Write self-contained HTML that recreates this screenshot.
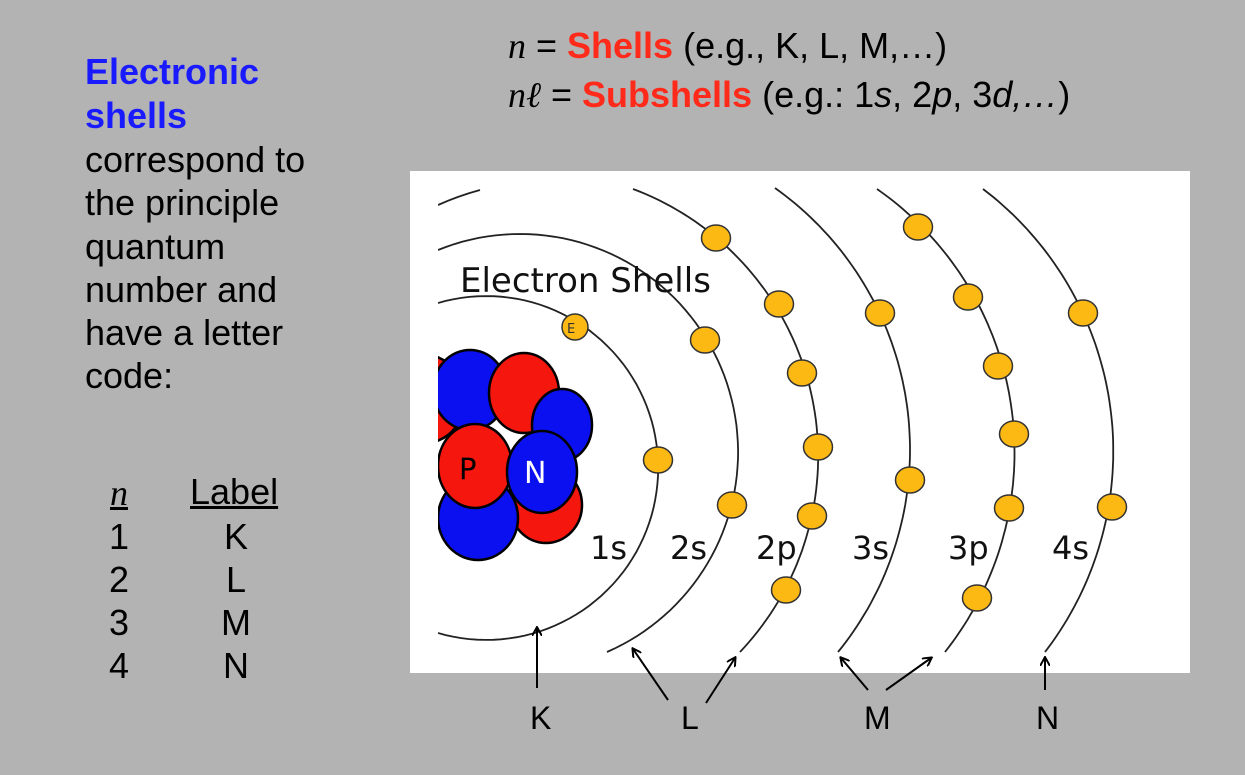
<!DOCTYPE html>
<html><head><meta charset="utf-8"><style>
html,body{margin:0;padding:0}
body{width:1245px;height:775px;background:#b3b3b3;position:relative;overflow:hidden;font-family:"Liberation Sans",Arial,sans-serif;color:#000}
.t{position:absolute;white-space:nowrap;font-size:36px;line-height:30px}
.r{color:#ff2a1a;font-weight:bold}
.b{color:#1a1aff;font-weight:bold}
.ser{font-family:"Liberation Serif",serif;font-style:italic}
.c{width:40px;text-align:center}
</style></head><body>
<div class="t" style="left:508px;top:31px"><span class="ser">n</span> = <span class="r">Shells</span> (e.g., K, L, M,…)</div>
<div class="t" style="left:508px;top:80px"><span class="ser">nℓ</span> = <span class="r">Subshells</span> (e.g.: 1<i>s</i>, 2<i>p</i>, 3<i>d,…</i>)</div>

<div class="t b" style="left:85px;top:57px">Electronic</div>
<div class="t b" style="left:85px;top:101px">shells</div>
<div class="t" style="left:85px;top:145px">correspond to</div>
<div class="t" style="left:85px;top:188px">the principle</div>
<div class="t" style="left:85px;top:232px">quantum</div>
<div class="t" style="left:85px;top:275px">number and</div>
<div class="t" style="left:85px;top:318px">have a letter</div>
<div class="t" style="left:85px;top:361px">code:</div>

<div class="t ser" style="left:110px;top:478px;text-decoration:underline">n</div>
<div class="t" style="left:190px;top:477px;text-decoration:underline">Label</div>
<div class="t" style="left:109px;top:522px">1</div><div class="t c" style="left:216px;top:522px">K</div>
<div class="t" style="left:109px;top:565px">2</div><div class="t c" style="left:216px;top:565px">L</div>
<div class="t" style="left:109px;top:608px">3</div><div class="t c" style="left:216px;top:608px">M</div>
<div class="t" style="left:109px;top:651px">4</div><div class="t c" style="left:216px;top:651px">N</div>

<svg width="1245" height="775" style="position:absolute;left:0;top:0">
<defs><clipPath id="c"><rect x="438" y="171" width="752" height="502"/></clipPath>
<marker id="a" markerWidth="10" markerHeight="10" refX="8" refY="5" orient="auto" markerUnits="userSpaceOnUse"><path d="M0,0 L9,5 L0,10" fill="none" stroke="#000" stroke-width="2"/></marker></defs>
<rect x="410" y="171" width="780" height="502" fill="#fff"/>
<g id="arcs" fill="none" stroke="#222" stroke-width="1.8" clip-path="url(#c)"></g>
<g clip-path="url(#c)" stroke="#000" stroke-width="2.5">
<ellipse cx="425" cy="399" rx="40" ry="44" fill="#f5160e"/>
<ellipse cx="470" cy="390" rx="37" ry="40" fill="#0a10f0"/>
<ellipse cx="524" cy="393" rx="35" ry="40" fill="#f5160e"/>
<ellipse cx="562" cy="425" rx="30" ry="36" fill="#0a10f0"/>
<ellipse cx="546" cy="505" rx="36" ry="38" fill="#f5160e"/>
<ellipse cx="478" cy="518" rx="40" ry="42" fill="#0a10f0"/>
<ellipse cx="475" cy="466" rx="37" ry="42" fill="#f5160e"/>
<ellipse cx="542" cy="472" rx="35" ry="41" fill="#0a10f0"/>
</g>
<text x="459" y="479" font-family="DejaVu Sans,sans-serif" font-size="29" fill="#000">P</text>
<text x="524" y="483" font-family="DejaVu Sans,sans-serif" font-size="30" fill="#fff">N</text>
<g id="el" fill="#fdb913" stroke="#333" stroke-width="1.5"></g>
<text x="567" y="333" font-family="DejaVu Sans,sans-serif" font-size="13" fill="#333">E</text>
<text x="460" y="292" font-family="DejaVu Sans,sans-serif" font-size="34" fill="#111">Electron Shells</text>
<g font-family="DejaVu Sans,sans-serif" font-size="32" fill="#111">
<text x="590" y="559">1s</text><text x="670" y="559">2s</text><text x="756" y="559">2p</text>
<text x="852" y="559">3s</text><text x="948" y="559">3p</text><text x="1052" y="559">4s</text></g>
<g stroke="#000" stroke-width="2" marker-end="url(#a)">
<line x1="537" y1="688" x2="537" y2="628"/>
<line x1="668" y1="700" x2="633" y2="649"/>
<line x1="706" y1="703" x2="735" y2="658"/>
<line x1="868" y1="690" x2="841" y2="658"/>
<line x1="886" y1="690" x2="931" y2="658"/>
<line x1="1045" y1="690" x2="1045" y2="658"/>
</g>
<g font-family="Liberation Sans,sans-serif" font-size="32" fill="#000">
<text x="530" y="729">K</text><text x="681" y="729">L</text><text x="864" y="729">M</text><text x="1036" y="729">N</text></g>
</svg>
<script>
const NS="http://www.w3.org/2000/svg";
function circ(a,b,c){const [x1,y1]=a,[x2,y2]=b,[x3,y3]=c;const d=2*(x1*(y2-y3)+x2*(y3-y1)+x3*(y1-y2));
const ux=((x1*x1+y1*y1)*(y2-y3)+(x2*x2+y2*y2)*(y3-y1)+(x3*x3+y3*y3)*(y1-y2))/d;
const uy=((x1*x1+y1*y1)*(x3-x2)+(x2*x2+y2*y2)*(x1-x3)+(x3*x3+y3*y3)*(x2-x1))/d;return [ux,uy,Math.hypot(x1-ux,y1-uy)];}
function arc(a,b,c){const [cx,cy,r]=circ(a,b,c);let t0=Math.atan2(a[1]-cy,a[0]-cx),t1=Math.atan2(c[1]-cy,c[0]-cx);
while(t1<t0)t1+=2*Math.PI;let d="";for(let i=0;i<=80;i++){const t=t0+(t1-t0)*i/80;d+=(i?"L":"M")+(cx+r*Math.cos(t)).toFixed(1)+","+(cy+r*Math.sin(t)).toFixed(1);}return d;}
const arcs=[
[[438,303],[658,460],[438,633]],
[[438,250],[738,447],[607,652]],
[[633,189],[818,447],[740,652]],
[[775,188],[910,450],[838,652]],
[[877,189],[1014,434],[945,652]],
[[983,189],[1112,480],[1045,652]]];
const g=document.getElementById("arcs");
arcs.forEach(a=>{const p=document.createElementNS(NS,"path");p.setAttribute("d",arc(...a));g.appendChild(p);});
const l=document.createElementNS(NS,"path");l.setAttribute("d","M438,205 Q458,196 480,190");g.appendChild(l);
const els=[[575,327,13],[658,460],[705,340],[732,505],[716,238],[779,304],[802,373],[818,447],[812,516],[786,590],[880,313],[910,480],[918,227],[968,297],[998,366],[1014,434],[1009,508],[977,598],[1083,313],[1112,507]];
const e=document.getElementById("el");
els.forEach(q=>{const c=document.createElementNS(NS,"ellipse");c.setAttribute("cx",q[0]);c.setAttribute("cy",q[1]);c.setAttribute("rx",q[2]||14.5);c.setAttribute("ry",q[2]||13);e.appendChild(c);});
</script>
</body></html>
